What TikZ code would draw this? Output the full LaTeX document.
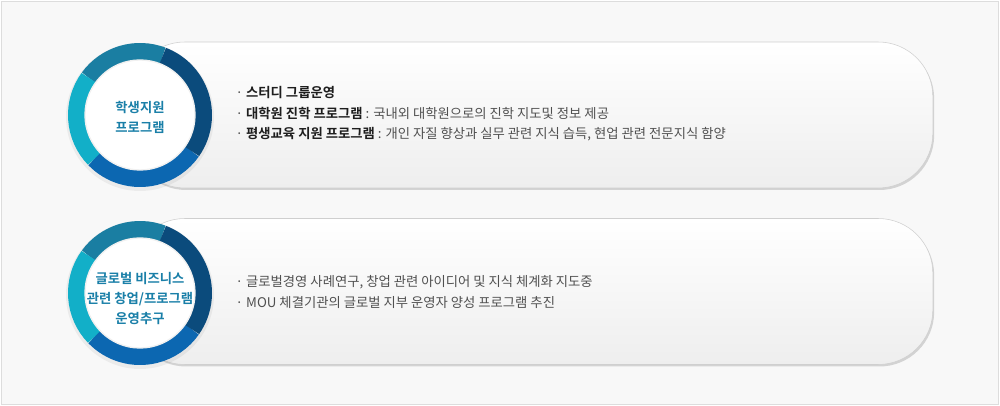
\documentclass[tikz,border=0pt]{standalone}
\usepackage{fontspec}
\setmainfont{Noto Sans CJK KR}[BoldFont={Noto Sans CJK KR Bold}]
\usepackage{tikz}
\usetikzlibrary{shadows}

\definecolor{pageback}{HTML}{F8F8F8}
\definecolor{pageline}{HTML}{DDDDDD}
\definecolor{panelline}{HTML}{CFCFCF}
\definecolor{panelbottom}{HTML}{EEEEEE}
\definecolor{ringteal}{HTML}{1A7EA2}
\definecolor{ringnavy}{HTML}{0B4B7C}
\definecolor{ringblue}{HTML}{0C67B1}
\definecolor{ringcyan}{HTML}{12AFC8}
\definecolor{titleblue}{HTML}{1A7FA8}
\definecolor{itemtext}{HTML}{505050}
\definecolor{itemhead}{HTML}{1E1E1E}

\newcommand{\headtext}[1]{\textbf{\color{itemhead}#1}}

\begin{document}
\begin{tikzpicture}[x=0.75pt,y=0.75pt,
	panel/.style={draw=panelline, rounded corners=41pt, top color=white, bottom color=panelbottom,
		minimum width=602pt, minimum height=109.5pt,
		drop shadow={shadow xshift=1pt, shadow yshift=-1.5pt, fill=black, opacity=0.15}},
	halo/.style={circle, fill=black, inner sep=0pt},
	hub/.style={circle, fill=white, draw=black!6, line width=1pt, minimum size=82.5pt, inner sep=0pt},
	seg/.style={line width=12.75pt},
	title/.style={text=titleblue, font=\bfseries\fontsize{10}{15}\selectfont, align=center},
	item/.style={anchor=west, text=itemtext, font=\fontsize{10}{12}\selectfont}]
			\useasboundingbox (0,0) rectangle (1000,406);
			\draw[pageline, fill=pageback] (1,2) rectangle (998,405);
			
			\node[panel] (panel1) at (531.5,291) {};
			\node[panel] (panel2) at (531.5,114.5) {};
			
			\foreach \n/\y in {1/291, 2/113} {
				\node[halo, opacity=0.05, minimum size=111pt] at (140,\y-2) {};
				\coordinate (ring\n) at (140,\y);
				\foreach \col/\from/\to in {ringteal/69/144, ringcyan/144/224, ringblue/224/325, ringnavy/325/429}
					\draw[seg, \col] (ring\n) ++(\from:63.5) arc[start angle=\from, end angle=\to, radius=63.5];
				\node[hub] (hub\n) at (ring\n) {};
			}
			
			\node[title] (title1) at (140,289) {학생지원\\프로그램};
			\node[title] (title2) at (140,107) {글로벌 비즈니스\\관련 창업/프로그램\\운영추구};
			
			\node[item] (item11) at (231,313) {· \headtext{스터디 그룹운영}};
			\node[item] (item12) at (231,293) {· \headtext{대학원 진학 프로그램} : 국내외 대학원으로의 진학 지도및 정보 제공};
			\node[item] (item13) at (231,272) {· \headtext{평생교육 지원 프로그램} : 개인 자질 향상과 실무 관련 지식 습득, 현업 관련 전문지식 함양};
			
			\node[item] (item21) at (231,124) {· 글로벌경영 사례연구, 창업 관련 아이디어 및 지식 체계화 지도중};
			\node[item] (item22) at (231,103) {· MOU 체결기관의 글로벌 지부 운영자 양성 프로그램 추진};
\end{tikzpicture}
\end{document}
